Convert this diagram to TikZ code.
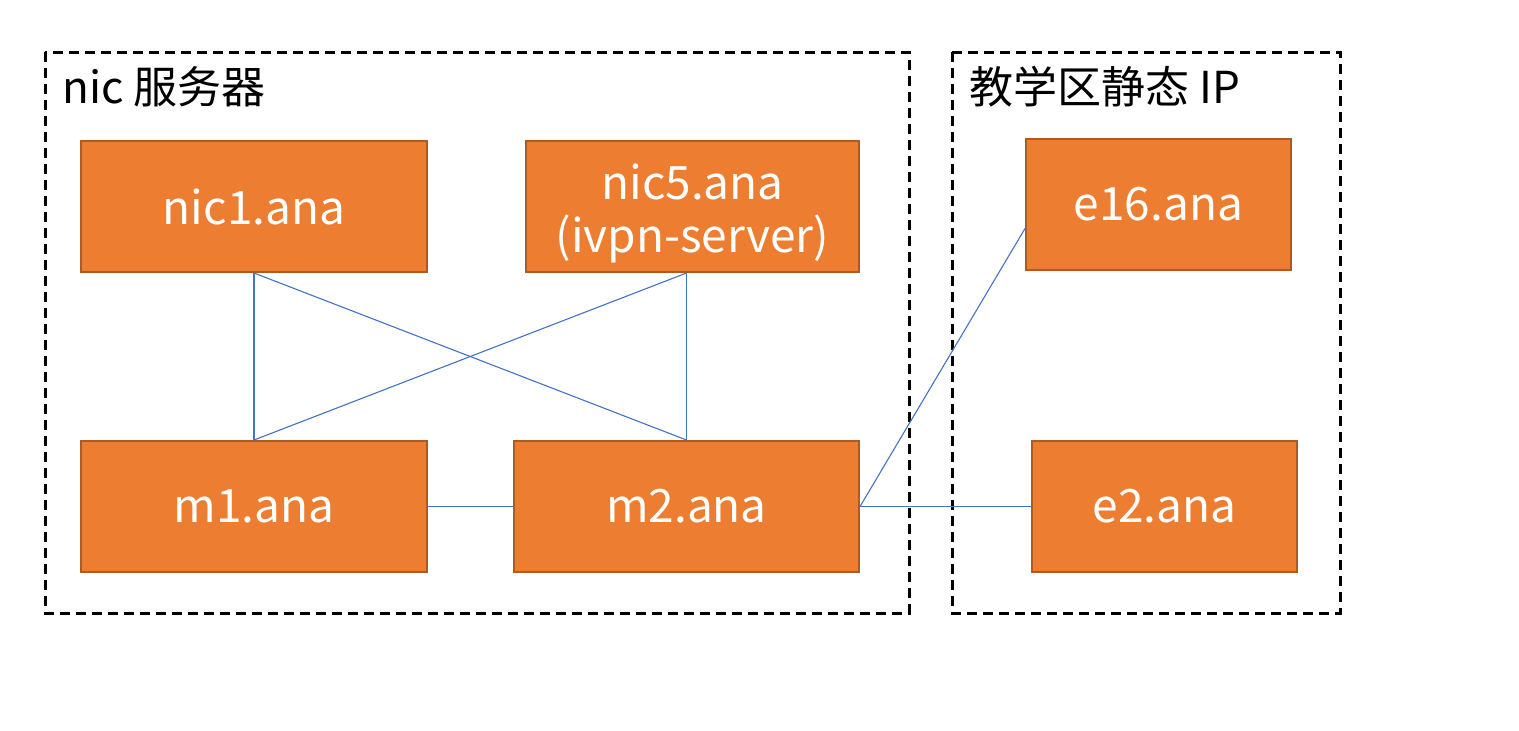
\documentclass[tikz,border=0pt]{standalone}
\usepackage{fontspec}
\setmainfont{Noto Sans CJK SC}
\begin{document}
\begin{tikzpicture}[x=0.5pt,y=-0.5pt,
  boxfont/.style={font=\fontsize{23}{26.5}\selectfont},
  box/.style={draw=boxborder,line width=1pt,fill=boxfill,text=white,
    inner sep=0pt,align=center,boxfont},
  grp/.style={draw=black,line width=1.5pt,dash pattern=on 5pt off 3pt},
  link/.style={draw=linkblue,line width=0.55pt},
  title/.style={anchor=base west,inner sep=0pt,font=\fontsize{22}{26}\selectfont}]
\definecolor{boxfill}{HTML}{ED7D31}
\definecolor{boxborder}{HTML}{AE5A21}
\definecolor{linkblue}{HTML}{4472C4}
\useasboundingbox (0,0) rectangle (1519,730);
\fill[white] (0,0) rectangle (1519,730);
\draw[grp] (45,52) rectangle (909,613);
\draw[grp] (952,52) rectangle (1340,613);
\node[title] (t1) at (62,103) {nic 服务器};
\node[title] (t2) at (969,103) {教学区静态 IP};
\node[box,minimum width=173pt,minimum height=65.5pt] (nic1) at (254,206.5) {nic1.ana};
\node[box,minimum width=166.5pt,minimum height=65.5pt,
  label={[text=white,boxfont,align=center,inner sep=0pt,yshift=-3.5pt]center:nic5.ana\\(ivpn-server)}] (nic5) at (692.5,206.5) {};
\node[box,minimum width=173pt,minimum height=65.5pt] (m1) at (254,506.5) {m1.ana};
\node[box,minimum width=172.5pt,minimum height=65.5pt] (m2) at (686.5,506.5) {m2.ana};
\node[box,minimum width=132.5pt,minimum height=65.5pt] (e16) at (1158.5,204.5) {e16.ana};
\node[box,minimum width=132.5pt,minimum height=65.5pt] (e2) at (1164.5,506.5) {e2.ana};
\coordinate (n5b) at (m2.north |- nic5.south);
\coordinate (e16in) at ([yshift=-12pt]e16.west);
\draw[link] (nic1.south) -- (m1.north);
\draw[link] (nic1.south) -- (m2.north);
\draw[link] (n5b) -- (m1.north);
\draw[link] (n5b) -- (m2.north);
\draw[link] (m1.east) -- (m2.west);
\draw[link] (m2.east) -- (e16in);
\draw[link] (m2.east) -- (e2.west);
\end{tikzpicture}
\end{document}
